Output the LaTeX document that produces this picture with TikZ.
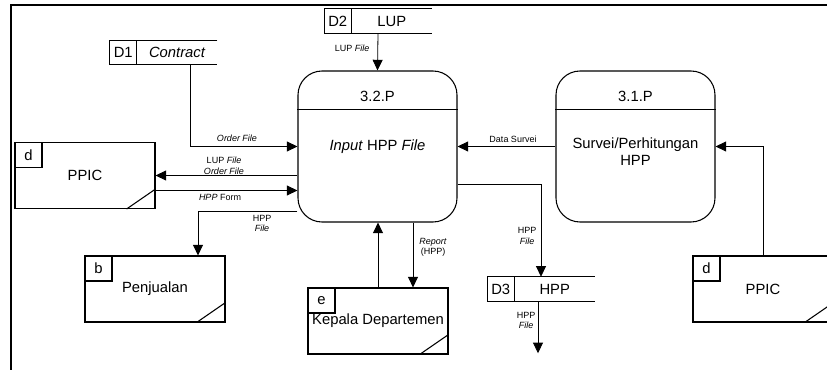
\documentclass[tikz,border=0pt]{standalone}
\usepackage{fontspec}
\setmainfont{Liberation Sans}
\usetikzlibrary{
		calc,
		positioning,
		arrows.meta
	}
\tikzset{
		>={Triangle[length=8pt,width=7.5pt]},
		dataflow/.style={->, line width=0.6pt},
		lbl/.style={font=\fontsize{6.75}{8}\selectfont, align=center, inner sep=0pt},
		bigtxt/.style={font=\fontsize{11.1}{12.75}\selectfont, align=center, inner sep=0pt},
		entity/.style={draw, line width=0.8pt, minimum width=105pt, minimum height=49.5pt, inner sep=0pt, font=\fontsize{11.1}{13}\selectfont},
		tagbox/.style={draw, line width=0.8pt, minimum width=20.25pt, minimum height=18.75pt, inner sep=0pt, anchor=north west, font=\fontsize{11.1}{13}\selectfont},
		process/.style={draw, line width=0.8pt, rounded corners=18pt, minimum width=119.25pt, minimum height=113.25pt, inner sep=0pt},
		store/.style={minimum width=80.25pt, minimum height=18pt, inner sep=0pt}
	}
\begin{document}
\begin{tikzpicture}[x=0.75pt, y=-0.75pt] % (one unit = one pixel of the sketch, y grows downwards)
		\useasboundingbox (0,0) rectangle (827,370);
		\clip (0,0) rectangle (827,370);
		\draw[line width=1.5pt] (11,370) -- (11,5) -- (827,5);
		% processes
		\node[process] (p32) at (377.5,146.5) {};
		\node[process] (p31) at (635.5,146.5) {};
		\foreach \p/\id in {p32/3.2.P, p31/3.1.P} {
			\draw[line width=0.8pt] ($(\p.north west)+(0,39)$) -- ($(\p.north east)+(0,39)$);
			\node[bigtxt] (\p-id) at ($(\p.north)+(0,26)$) {\id};
		}
		\node[bigtxt] (p32-txt) at (377.5,147) {\textit{Input} HPP \textit{File}};
		\node[bigtxt] (p31-txt) at (635.5,151.5) {Survei/Perhitungan\\HPP};
		% external entities
		\node[entity] (ppicL) at (85,175.5) {PPIC};
		\node[entity] (jual) at (155,289) {Penjualan};
		\node[entity] (kadep) at (378,321) {Kepala Departemen};
		\node[entity] (ppicR) at (763,289) {PPIC};
		\foreach \e/\t in {ppicL/d, jual/b, kadep/e, ppicR/d} {
			\node[tagbox] (\e-tag) at (\e.north west) {\t};
			\draw[line width=0.8pt] ($(\e.south east)+(-29,0)$) -- ($(\e.south east)+(0,-20)$);
		}
		% data stores
		\node[store] (d1) at (163.5,52.5) {};
		\node[store] (d2) at (378,21) {};
		\node[store] (d3) at (541,289) {};
		\foreach \s/\id/\name in {d1/D1/{\textit{Contract}}, d2/D2/LUP, d3/D3/HPP} {
			\draw[line width=0.8pt] (\s.north east) -- (\s.north west) -- (\s.south west) -- (\s.south east);
			\draw[line width=0.8pt] ($(\s.north west)+(27,0)$) -- ($(\s.south west)+(27,0)$);
			\node[bigtxt] (\s-id) at ($(\s.west)+(13.5,0)$) {\id};
			\node[bigtxt] (\s-name) at ($(\s.east)+(-40,0)$) {\name};
		}
		% flows
		\coordinate (d1out) at ($(d1.south)+(26.5,0)$);
		\coordinate (formL) at ($(ppicL.east)+(0,15)$);
		\coordinate (jualIn) at ($(jual.north)+(43,0)$);
		\coordinate (hppL) at ($(p32.west)+(0,64.5)$);
		\coordinate (rptK) at ($(kadep.north)+(35,0)$);
		\coordinate (hppR) at ($(p32.east)+(0,37.5)$);
		\coordinate (out) at ($(d3.south)+(-3,52)$);
		\draw[dataflow] (d1out) |- (p32.west);
		\draw[dataflow] (d2.south) -- (p32.north);
		\draw[dataflow] (p31.west) -- (p32.east);
		\draw[dataflow] (p32.west |- ppicL.east) -- (ppicL.east);
		\draw[dataflow] (formL) -- (p32.west |- formL);
		\draw[dataflow] (hppL) -| (jualIn);
		\draw[dataflow] (kadep.north) -- (kadep.north |- p32.south);
		\draw[dataflow] (rptK |- p32.south) -- (rptK);
		\draw[dataflow] (hppR) -| (d3.north);
		\draw[dataflow] (d3.south -| out) -- (out);
		\draw[dataflow] (ppicR.north) |- (p31.east);
		% flow labels
		\node[lbl] (l-order) at (237,138) {\textit{Order File}};
		\node[lbl] (l-lup) at (352,48) {LUP \textit{File}};
		\node[lbl] (l-survei) at (513,139) {Data Survei};
		\node[lbl] (l-lupord) at (224,166) {LUP \textit{File}\\\textit{Order File}};
		\node[lbl] (l-form) at (220,197) {\textit{HPP} Form};
		\node[lbl] (l-hppL) at (262,223.5) {HPP\\\textit{File}};
		\node[lbl] (l-report) at (433,247.5) {\textit{Report}\\(HPP)};
		\node[lbl] (l-hppR) at (527,236) {HPP\\\textit{File}};
		\node[lbl] (l-hppO) at (526,320.5) {HPP\\\textit{File}};
	\end{tikzpicture}
\end{document}
